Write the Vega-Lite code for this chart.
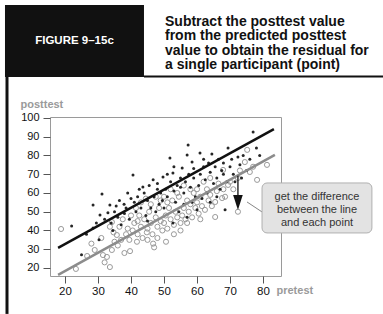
{
  "$schema": "https://vega.github.io/schema/vega-lite/v6.json",
  "width": 231,
  "height": 159,
  "autosize": "none",
  "padding": {"left": 50, "top": 117, "right": 102, "bottom": 38},
  "background": "white",
  "config": {
    "view": {"stroke": "#9a9a9a", "strokeWidth": 1},
    "font": "Liberation Sans",
    "axis": {"grid": false, "domain": false, "labelOverlap": false, "labelFlush": false, "tickColor": "#555", "labelColor": "#111", "titleColor": "#9a9a9a", "titleFontSize": 11, "titleFontWeight": "bold", "titleAngle": 0, "titleAlign": "left", "titleBaseline": "middle"},
    "axisX": {"tickCount": 7, "tickSize": 7, "labelFontSize": 11.5, "labelPadding": 2, "titleX": 226, "titleY": 14},
    "axisY": {"tickCount": 9, "tickSize": 7, "labelFontSize": 11, "labelPadding": 4, "titleX": -30, "titleY": -13}
  },
  "datasets": {
    "dots": [
      {"x":22,"y":42.4},{"x":25,"y":27},{"x":28.5,"y":41.3},{"x":28.5,"y":53.6},{"x":30.3,"y":35},{"x":26.5,"y":38},{"x":29.5,"y":44},
      {"x":31.2,"y":59.5},{"x":33.6,"y":53.6},{"x":30.6,"y":48.3},{"x":32,"y":46},{"x":34,"y":44},{"x":35,"y":50},{"x":36,"y":47},{"x":37.9,"y":54},{"x":38.5,"y":52},{"x":39,"y":60},{"x":36.5,"y":56},{"x":34.5,"y":40},{"x":37,"y":43},{"x":38,"y":49},{"x":39.5,"y":46},{"x":33,"y":49.5},{"x":35.5,"y":53},
      {"x":40.6,"y":69.6},{"x":41,"y":55},{"x":42,"y":58},{"x":43,"y":52},{"x":43.6,"y":63.2},{"x":44,"y":60},{"x":45,"y":56},{"x":45.5,"y":64},{"x":46.7,"y":67},{"x":47,"y":58},{"x":48,"y":62},{"x":48.5,"y":54},{"x":49,"y":60},{"x":49.7,"y":68.5},{"x":41.5,"y":50},{"x":44.5,"y":48},{"x":46,"y":52},{"x":47.5,"y":50},{"x":42.5,"y":62},{"x":40,"y":57},{"x":49.5,"y":56},{"x":48,"y":65},{"x":45,"y":45},
      {"x":50.5,"y":62},{"x":51,"y":58},{"x":51.8,"y":78.7},{"x":52,"y":66},{"x":52.7,"y":70.7},{"x":53,"y":61},{"x":53.5,"y":55},{"x":54,"y":64},{"x":55,"y":68},{"x":55.5,"y":73.3},{"x":56,"y":60},{"x":56.5,"y":66},{"x":57,"y":80.3},{"x":57.3,"y":85.6},{"x":57.5,"y":70},{"x":58,"y":63},{"x":58.5,"y":76.5},{"x":59,"y":68},{"x":59.5,"y":58},{"x":50,"y":52},{"x":52.7,"y":44},{"x":54.5,"y":50},{"x":56,"y":54},{"x":57,"y":47},{"x":58.5,"y":55},{"x":59,"y":73},{"x":60,"y":51},{"x":51,"y":70},{"x":53,"y":74},{"x":55,"y":63},
      {"x":60.5,"y":64},{"x":60.9,"y":81.3},{"x":61,"y":70},{"x":62,"y":74},{"x":62.5,"y":67},{"x":63,"y":60},{"x":63.5,"y":76},{"x":64,"y":71},{"x":64.5,"y":80.8},{"x":65,"y":65},{"x":65.5,"y":74},{"x":66,"y":68},{"x":66.5,"y":78},{"x":67,"y":62},{"x":67.5,"y":72},{"x":68,"y":76},{"x":68.5,"y":51},{"x":69,"y":66},{"x":69.4,"y":84},{"x":61.5,"y":57},{"x":64,"y":55},{"x":66,"y":58},{"x":62,"y":78},{"x":68,"y":70},
      {"x":70,"y":74},{"x":70.5,"y":78},{"x":71,"y":70},{"x":72.4,"y":79.2},{"x":73,"y":75},{"x":74,"y":80},{"x":75,"y":72},{"x":76,"y":78},{"x":77,"y":92.5},{"x":78,"y":84},{"x":79,"y":80},{"x":71.5,"y":66},{"x":73.5,"y":68}
    ],
    "circles": [
      {"x":18.8,"y":40.8},{"x":23.3,"y":19.5},{"x":26.7,"y":26.4},{"x":29,"y":29.6},{"x":28,"y":33},
      {"x":31.5,"y":26.9},{"x":32.7,"y":25.9},{"x":32,"y":23},{"x":33.6,"y":20.5},{"x":34.2,"y":29.6},{"x":33.6,"y":42},{"x":34.7,"y":39},{"x":35.7,"y":37.6},{"x":34.2,"y":44.5},{"x":36,"y":32},{"x":37,"y":35},{"x":38,"y":28},{"x":39.7,"y":29},{"x":38.5,"y":38},{"x":39,"y":41},{"x":36.5,"y":42},{"x":37.5,"y":46},{"x":39.5,"y":35},{"x":31,"y":36},{"x":35,"y":34},
      {"x":41.8,"y":34},{"x":44.8,"y":39},{"x":46.7,"y":33},{"x":47,"y":31},{"x":40.5,"y":40},{"x":41,"y":44},{"x":42,"y":38},{"x":42.5,"y":48},{"x":43,"y":42},{"x":43.5,"y":36},{"x":44,"y":46},{"x":45,"y":41},{"x":45.5,"y":50},{"x":46,"y":44},{"x":46.5,"y":38},{"x":47.5,"y":47},{"x":48,"y":42},{"x":48.5,"y":52},{"x":49,"y":45},{"x":49.5,"y":40},{"x":40,"y":48},{"x":41.5,"y":52},{"x":43,"y":55},{"x":44.5,"y":57},{"x":46,"y":54},{"x":47.5,"y":58},{"x":49,"y":56},{"x":48,"y":36},{"x":42,"y":45},{"x":45,"y":35},
      {"x":50.6,"y":34},{"x":50,"y":44},{"x":50.5,"y":48},{"x":51,"y":41},{"x":51.5,"y":52},{"x":52,"y":46},{"x":52.5,"y":56},{"x":53,"y":43},{"x":53.5,"y":50},{"x":54,"y":47},{"x":54.5,"y":58},{"x":55,"y":44},{"x":55.5,"y":48},{"x":56,"y":52},{"x":56.5,"y":46},{"x":57,"y":56},{"x":57.5,"y":50},{"x":58,"y":54},{"x":58.5,"y":47},{"x":59,"y":60},{"x":59.5,"y":52},{"x":50,"y":58},{"x":52,"y":62},{"x":54,"y":60},{"x":56,"y":64},{"x":58,"y":62},{"x":55,"y":40},{"x":57,"y":44},{"x":53,"y":38},{"x":51,"y":55},
      {"x":60,"y":55},{"x":60.5,"y":49},{"x":61,"y":58},{"x":61.5,"y":53},{"x":62.4,"y":51},{"x":63,"y":62},{"x":63.5,"y":56},{"x":64,"y":59},{"x":64.5,"y":53},{"x":65.5,"y":55.2},{"x":65.5,"y":47.2},{"x":66,"y":61},{"x":66.5,"y":65},{"x":67.6,"y":57.3},{"x":67.9,"y":72.3},{"x":68,"y":62},{"x":68.5,"y":58},{"x":69.4,"y":64.3},{"x":62,"y":66},{"x":60,"y":62},{"x":64,"y":68},{"x":61,"y":46},
      {"x":70,"y":66},{"x":71,"y":62},{"x":72.4,"y":68},{"x":72.4,"y":50},{"x":74.5,"y":76.5},{"x":75.2,"y":83},{"x":76,"y":71.2},{"x":78.2,"y":67},{"x":81.2,"y":75},{"x":73,"y":72},{"x":77,"y":74}
    ],
    "fits": [
      {"line":"observed","x":17.9,"y":30.7},{"line":"observed","x":83.3,"y":94.1},
      {"line":"predicted","x":17.9,"y":16.3},{"line":"predicted","x":83.6,"y":80.3}
    ],
    "one": [{"k": 1}]
  },
  "layer": [
    {"data": {"name": "circles"}, "mark": {"type": "point", "filled": false, "stroke": "#9a9a9a", "strokeWidth": 1, "size": 26, "opacity": 1},
     "encoding": {
       "x": {"field": "x", "type": "quantitative", "scale": {"domain": [15.45, 85.45], "nice": false, "zero": false}, "title": "pretest"},
       "y": {"field": "y", "type": "quantitative", "scale": {"domain": [15.73, 100.53], "nice": false, "zero": false}, "title": "posttest"}}},
    {"data": {"name": "dots"}, "mark": {"type": "point", "filled": true, "fill": "#1a1a1a", "size": 9, "opacity": 0.95, "strokeWidth": 0},
     "encoding": {"x": {"field": "x", "type": "quantitative", "title": "pretest"}, "y": {"field": "y", "type": "quantitative", "title": "posttest"}}},
    {"data": {"name": "fits"}, "mark": {"type": "line", "strokeWidth": 2.5},
     "encoding": {"x": {"field": "x", "type": "quantitative", "title": "pretest"}, "y": {"field": "y", "type": "quantitative", "title": "posttest"},
       "color": {"field": "line", "type": "nominal", "scale": {"domain": ["observed", "predicted"], "range": ["#111", "#8c8c8c"]}, "legend": null}}},
    {"data": {"name": "one"}, "mark": {"type": "rect", "fill": "#111"},
     "encoding": {"x": {"datum": 1.81, "type": "quantitative", "title": "pretest"}, "x2": {"datum": 43.93}, "y": {"datum": 121.85, "type": "quantitative", "title": "posttest"}, "y2": {"datum": 160.24}}},
    {"data": {"name": "one"}, "mark": {"type": "rule", "stroke": "#111", "strokeWidth": 2},
     "encoding": {"x": {"datum": 43.93, "type": "quantitative", "title": "pretest"}, "x2": {"datum": 116.36}, "y": {"datum": 122.12, "type": "quantitative", "title": "posttest"}}},
    {"data": {"name": "one"}, "mark": {"type": "rule", "stroke": "#111", "strokeWidth": 3},
     "encoding": {"x": {"datum": 2.42, "type": "quantitative", "title": "pretest"}, "y": {"datum": 121.85, "type": "quantitative", "title": "posttest"}, "y2": {"datum": -4.49}}},
    {"data": {"name": "one"}, "mark": {"type": "text", "text": "FIGURE 9–15c", "fill": "white", "fontSize": 11.5, "fontWeight": "bold", "align": "center", "baseline": "middle"},
     "encoding": {"x": {"datum": 22.87, "type": "quantitative", "title": "pretest"}, "y": {"datum": 141.05, "type": "quantitative", "title": "posttest"}}},
    {"data": {"name": "one"}, "mark": {"type": "text", "text": ["Subtract the posttest value", "from the predicted posttest", "value to obtain the residual for", "a single participant (point)"], "fill": "#111", "fontSize": 14, "fontWeight": "bold", "align": "left", "baseline": "alphabetic", "lineHeight": 14.5},
     "encoding": {"x": {"datum": 50.3, "type": "quantitative", "title": "pretest"}, "y": {"datum": 149.3, "type": "quantitative", "title": "posttest"}}},
    {"data": {"name": "one"}, "mark": {"type": "rule", "stroke": "#111", "strokeWidth": 1.3},
     "encoding": {"x": {"datum": 72.4, "type": "quantitative", "title": "pretest"}, "y": {"datum": 69.2, "type": "quantitative", "title": "posttest"}, "y2": {"datum": 57}}},
    {"data": {"name": "one"}, "mark": {"type": "point", "shape": "M-1.6,-2.5L1.6,-2.5L0,2.5Z", "size": 36, "filled": true, "fill": "#111", "opacity": 1, "strokeWidth": 0},
     "encoding": {"x": {"datum": 72.4, "type": "quantitative", "title": "pretest"}, "y": {"datum": 54.95, "type": "quantitative", "title": "posttest"}}},
    {"data": {"name": "one"}, "mark": {"type": "rule", "stroke": "#666", "strokeWidth": 0.8},
     "encoding": {"x": {"datum": 75.15, "type": "quantitative", "title": "pretest"}, "y": {"datum": 55.22, "type": "quantitative", "title": "posttest"}, "x2": {"datum": 79.7}, "y2": {"datum": 49.9}}},
    {"data": {"name": "one"}, "mark": {"type": "rect", "fill": "#e3e3e3", "stroke": "#b0b0b0", "strokeWidth": 1, "cornerRadius": 5},
     "encoding": {"x": {"datum": 79.7, "type": "quantitative", "title": "pretest"}, "x2": {"datum": 113.0}, "y": {"datum": 65.35, "type": "quantitative", "title": "posttest"}, "y2": {"datum": 38.69}}},
    {"data": {"name": "one"}, "mark": {"type": "text", "text": ["get the difference", "between the line", "and each point"], "fill": "#333", "fontSize": 11, "align": "center", "baseline": "middle", "lineHeight": 13},
     "encoding": {"x": {"datum": 96.36, "type": "quantitative", "title": "pretest"}, "y": {"datum": 57.88, "type": "quantitative", "title": "posttest"}}}
  ]
}
